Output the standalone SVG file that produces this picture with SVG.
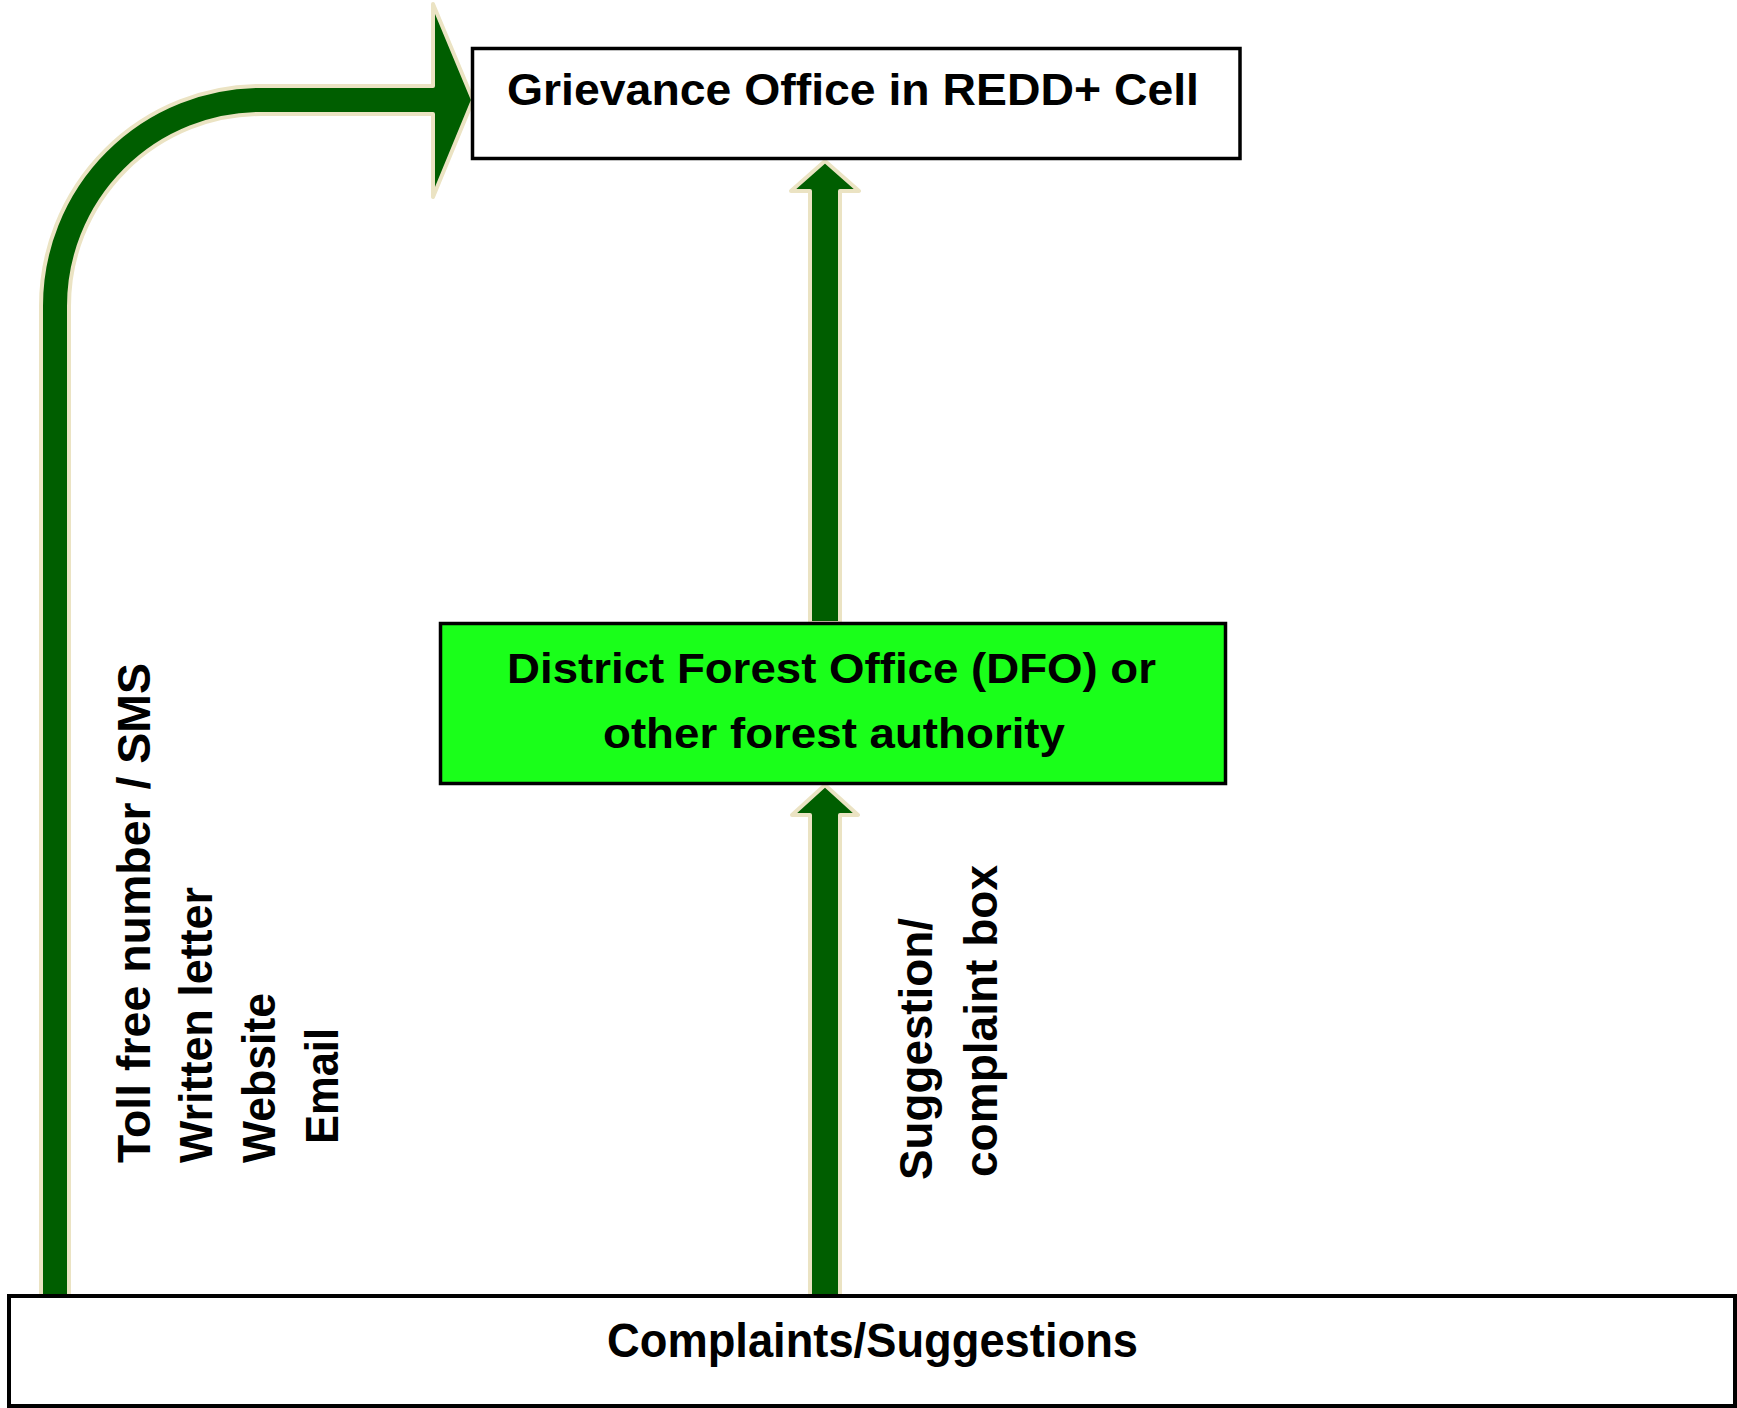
<svg xmlns="http://www.w3.org/2000/svg" width="1737" height="1408" viewBox="0 0 1737 1408">
<style>
.box{fill:#ffffff;stroke:#000000;stroke-width:3.5}
.dfo{fill:#1AFF1A;stroke:#000000;stroke-width:3.5}
.arrow{fill:#005E00;stroke:#EBE3C3;stroke-width:4;stroke-linejoin:round}
.t{font-family:"Liberation Sans",Arial,sans-serif;font-weight:bold;fill:#000000}
</style>
<rect width="1737" height="1408" fill="#ffffff"/>
<g id="connectors">
<path class="arrow" d="M41 1296 L41 306 A220 220 0 0 1 261 86 L433 86 L433 4 L473 100 L433 197 L433 114 L261 114 A192 192 0 0 0 69 306 L69 1296 Z"/>
<path class="arrow" d="M810 623 L810 191 L791 191 L825 161 L859 191 L840 191 L840 623 Z"/>
<path class="arrow" d="M810 1296 L810 815 L792 815 L825 785 L858 815 L840 815 L840 1296 Z"/>
</g>
<g id="grievance">
<rect class="box" x="472.5" y="48.5" width="767.5" height="110"/>
<text class="t" x="507" y="105" font-size="45" textLength="692" lengthAdjust="spacingAndGlyphs">Grievance Office in REDD+ Cell</text>
</g>
<g id="dfo">
<rect class="dfo" x="440.5" y="623.5" width="785" height="160"/>
<text class="t" x="507" y="683" font-size="43" textLength="649" lengthAdjust="spacingAndGlyphs">District Forest Office (DFO) or</text>
<text class="t" x="603" y="748" font-size="43" textLength="462" lengthAdjust="spacingAndGlyphs">other forest authority</text>
</g>
<g id="complaints">
<rect class="box" x="9" y="1296" width="1726" height="110" style="stroke-width:4"/>
<text class="t" x="607" y="1357" font-size="48" textLength="531" lengthAdjust="spacingAndGlyphs">Complaints/Suggestions</text>
</g>
<g id="channels-label">
<text class="t" x="150" y="1163" font-size="47" transform="rotate(-90 150 1163)" textLength="500" lengthAdjust="spacingAndGlyphs">Toll free number / SMS</text>
<text class="t" x="212" y="1163" font-size="47" transform="rotate(-90 212 1163)" textLength="276" lengthAdjust="spacingAndGlyphs">Written letter</text>
<text class="t" x="275" y="1163" font-size="47" transform="rotate(-90 275 1163)" textLength="170" lengthAdjust="spacingAndGlyphs">Website</text>
<text class="t" x="338" y="1144" font-size="47" transform="rotate(-90 338 1144)" textLength="116" lengthAdjust="spacingAndGlyphs">Email</text>
</g>
<g id="box-label">
<text class="t" x="932" y="1180" font-size="47" transform="rotate(-90 932 1180)" textLength="262" lengthAdjust="spacingAndGlyphs">Suggestion/</text>
<text class="t" x="997" y="1177" font-size="47" transform="rotate(-90 997 1177)" textLength="312" lengthAdjust="spacingAndGlyphs">complaint box</text>
</g>
</svg>
